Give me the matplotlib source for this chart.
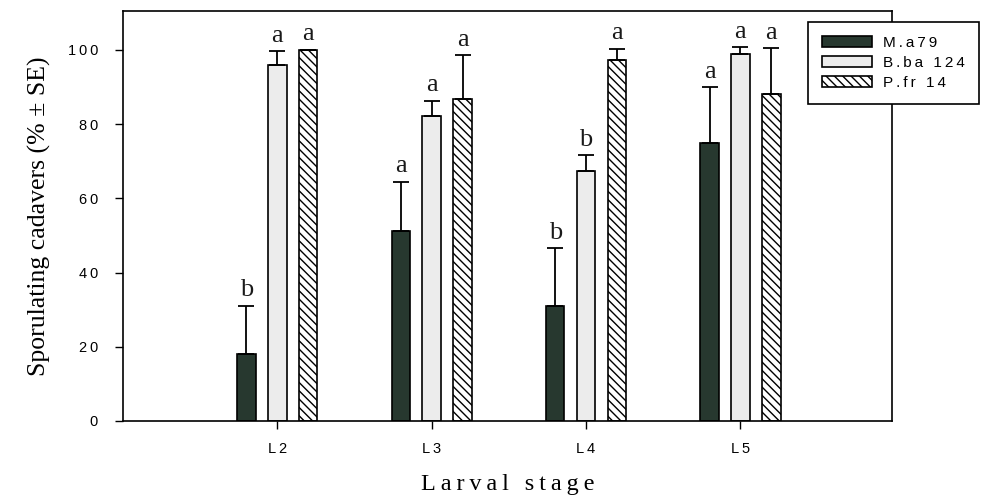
import numpy as np
import matplotlib.pyplot as plt

stages = ['L2', 'L3', 'L4', 'L5']
series = ['M.a79', 'B.ba 124', 'P.fr 14']

ma79 = [18, 51.2, 31, 75]
ma79_se = [13, 13.3, 15.5, 15]
bba124 = [96, 82.3, 67.4, 99]
bba124_se = [3.6, 4, 4.2, 1.7]
pfr14 = [100, 86.8, 97.2, 88]
pfr14_se = [0, 11.7, 3.1, 12.5]

letters_ma = ['b', 'a', 'b', 'a']
letters_bb = ['a', 'a', 'b', 'a']
letters_pf = ['a', 'a', 'a', 'a']


def spaced(s):
    # the original typesetting has loose letter spacing
    return '\u2009'.join(s)


sans = ['Liberation Sans', 'DejaVu Sans']
serif = ['Liberation Serif', 'DejaVu Serif']
plt.rcParams['hatch.linewidth'] = 1.0

fig = plt.figure(figsize=(9.88, 4.97), dpi=100)
ax = fig.add_axes([0.1245, 0.153, 0.778, 0.825])

x = np.arange(len(stages))
w = 0.12
off = 0.2
styles = [
    dict(color='#27382f', edgecolor='black'),
    dict(color='#ececec', edgecolor='black'),
    dict(color='white', edgecolor='black', hatch='\\\\\\\\'),
]
data = [(ma79, ma79_se, letters_ma), (bba124, bba124_se, letters_bb), (pfr14, pfr14_se, letters_pf)]

for i, ((vals, se, lets), st) in enumerate(zip(data, styles)):
    xi = x + (i - 1) * off
    ax.bar(xi, vals, w, linewidth=1.2, label=spaced(series[i]), zorder=2, **st)
    ax.errorbar(xi, vals, yerr=[np.zeros(len(se)), se], fmt='none', ecolor='black',
                elinewidth=1.3, capsize=6, capthick=1.3, zorder=3)
    for xx, v, s, l in zip(xi, vals, se, lets):
        ax.text(xx, v + s + 1.2, l, ha='center', va='bottom', fontsize=19,
                family=serif, color='#1a1a1a')

ax.set_xlim(-1, 3.98)
ax.set_ylim(0, 110.5)
ax.set_xticks(x)
ax.set_xticklabels([spaced(s) for s in stages], family=sans, fontsize=10.5)
yt = [0, 20, 40, 60, 80, 100]
ax.set_yticks(yt)
ax.set_yticklabels([spaced(str(v)) for v in yt], family=sans, fontsize=10.5)
ax.tick_params(direction='out', length=6, width=1, pad=12)
ax.tick_params(axis='x', pad=9)
for sp in ax.spines.values():
    sp.set_linewidth(1.2)

ax.set_ylabel('Sporulating cadavers (% ± SE)', family=serif, fontsize=18.5, labelpad=12)
ax.set_xlabel(spaced('Larval stage'), family=serif, fontsize=17.5, labelpad=13)

leg = ax.legend(loc='upper left', bbox_to_anchor=(0.818, 0.956),
                bbox_transform=fig.transFigure, fancybox=False, framealpha=1,
                edgecolor='black', prop={'family': sans, 'size': 11},
                handlelength=3.3, handleheight=0.7, labelspacing=0.4,
                borderpad=0.9, handletextpad=0.7, borderaxespad=0)
leg.get_frame().set_linewidth(1.2)
leg.set_zorder(5)

fig.savefig('out.png', dpi=100)
